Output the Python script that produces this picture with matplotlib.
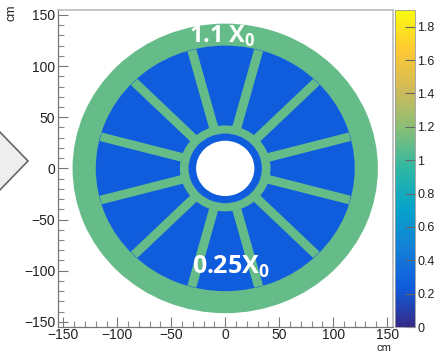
import numpy as np
import matplotlib
matplotlib.use('Agg')
import matplotlib.pyplot as plt
from matplotlib.patches import Wedge, Polygon
from matplotlib.colors import LinearSegmentedColormap, Normalize
from matplotlib.cm import ScalarMappable

plt.rcParams['font.family'] = ['Liberation Sans', 'DejaVu Sans']

# material budget per region (X0)
x0_support = 1.1
x0_sensor = 0.25
z_max = 1.9

# radii in cm
r_outer = 141.5
r_outer_in = 119.5
r_inner_out = 42
r_inner_in = 34
r_hole = 27

spoke_angles = [15, 45, 75, 105, 135, 165, 195, 225, 255, 285, 315, 345]
spoke_width = 8.5

x_major = [-150, -100, -50, 0, 50, 100, 150]
y_major = [-150, -100, -50, 0, 50, 100, 150]
z_ticks = [0, 0.2, 0.4, 0.6, 0.8, 1, 1.2, 1.4, 1.6, 1.8]

# ROOT kBird palette
bird = [(0.2082, 0.1664, 0.5293), (0.0592, 0.3599, 0.8684), (0.0780, 0.5041, 0.8385),
        (0.0232, 0.6419, 0.7914), (0.1802, 0.7178, 0.6425), (0.5301, 0.7492, 0.4662),
        (0.8186, 0.7328, 0.3499), (0.9956, 0.7862, 0.1968), (0.9764, 0.9832, 0.0539)]
cmap = LinearSegmentedColormap.from_list('bird', bird, N=255)
norm = Normalize(0, z_max)
green = cmap(norm(x0_support))
blue = cmap(norm(x0_sensor))

W, H = 435, 353
fig = plt.figure(figsize=(W / 100, H / 100), dpi=100)
ax = fig.add_axes([58 / W, 1 - 327 / H, (393 - 58) / W, (327 - 10) / H])
ax.set_xlim(-155, 155.5)
ax.set_ylim(-155, 154.8)

ax.add_patch(Wedge((0, 0), r_outer, 0, 360, width=r_outer - r_outer_in, fc=green, ec='none'))
ax.add_patch(Wedge((0, 0), r_outer_in + 0.5, 0, 360, width=r_outer_in + 0.5 - r_inner_in, fc=blue, ec='none'))
for a in spoke_angles:
    t = np.radians(a)
    d = np.array([np.cos(t), np.sin(t)])
    n = np.array([-d[1], d[0]]) * spoke_width / 2
    ax.add_patch(Polygon([d * r_inner_in + n, d * r_outer_in + n, d * r_outer_in - n, d * r_inner_in - n],
                         fc=green, ec='none'))
ax.add_patch(Wedge((0, 0), r_inner_out, 0, 360, width=r_inner_out - r_inner_in, fc=green, ec='none'))
ax.add_patch(Wedge((0, 0), r_inner_in, 0, 360, width=r_inner_in - r_hole, fc=blue, ec='none'))

ax.set_xticks(x_major)
ax.set_yticks(y_major)
ax.set_xticks(np.arange(-150, 151, 10), minor=True)
ax.set_yticks(np.arange(-150, 151, 10), minor=True)
ax.tick_params(which='major', direction='in', length=7.5, width=0.8, color='#777777', labelsize=10,
               labelcolor='#222222')
ax.tick_params(axis='y', which='major', pad=2)
ax.tick_params(axis='x', which='major', pad=1)
ax.tick_params(which='minor', direction='in', length=4, width=0.8, color='#888888')
for s in ['left', 'bottom']:
    ax.spines[s].set_color('#777777')
    ax.spines[s].set_linewidth(0.9)
for s in ['top', 'right']:
    ax.spines[s].set_color('#bbbbbb')
    ax.spines[s].set_linewidth(1.2)

# labels on the detector
ax.text(-3, 129, '1.1 X$_{\\mathregular{0}}$', color='white', fontsize=17, fontweight='bold',
        family='Open Sans', ha='center', va='center')
ax.text(5, -96, '0.25X$_{\\mathregular{0}}$', color='white', fontsize=18, fontweight='bold',
        family='Open Sans', ha='center', va='center')

# colour bar
cax = fig.add_axes([395 / W, 1 - 327 / H, 20 / W, (327 - 10) / H])
cb = fig.colorbar(ScalarMappable(norm=norm, cmap=cmap), cax=cax, ticks=z_ticks, format='%g')
cb.outline.set_edgecolor('#999999')
cb.outline.set_linewidth(0.6)
cax.tick_params(direction='in', length=7.5, width=0.8, color='#666666', labelsize=9, pad=1.5, labelcolor='#222222')

# axis units
fig.text(12 / W, 1 - 13 / H, 'cm', rotation=90, fontsize=9, ha='center', va='center', color='#222222')
fig.text(384 / W, 1 - 352.8 / H, 'cm', fontsize=8, ha='center', va='bottom', color='#222222')

# arrow tip from the slide on the left
fig.add_artist(Polygon([(-5 / W, 1 - 127 / H), (28 / W, 1 - 161 / H), (-5 / W, 1 - 195 / H)],
                       transform=fig.transFigure, fc='#eeeeee', ec='#666666', lw=1.2))

fig.savefig('out.png', dpi=100)
